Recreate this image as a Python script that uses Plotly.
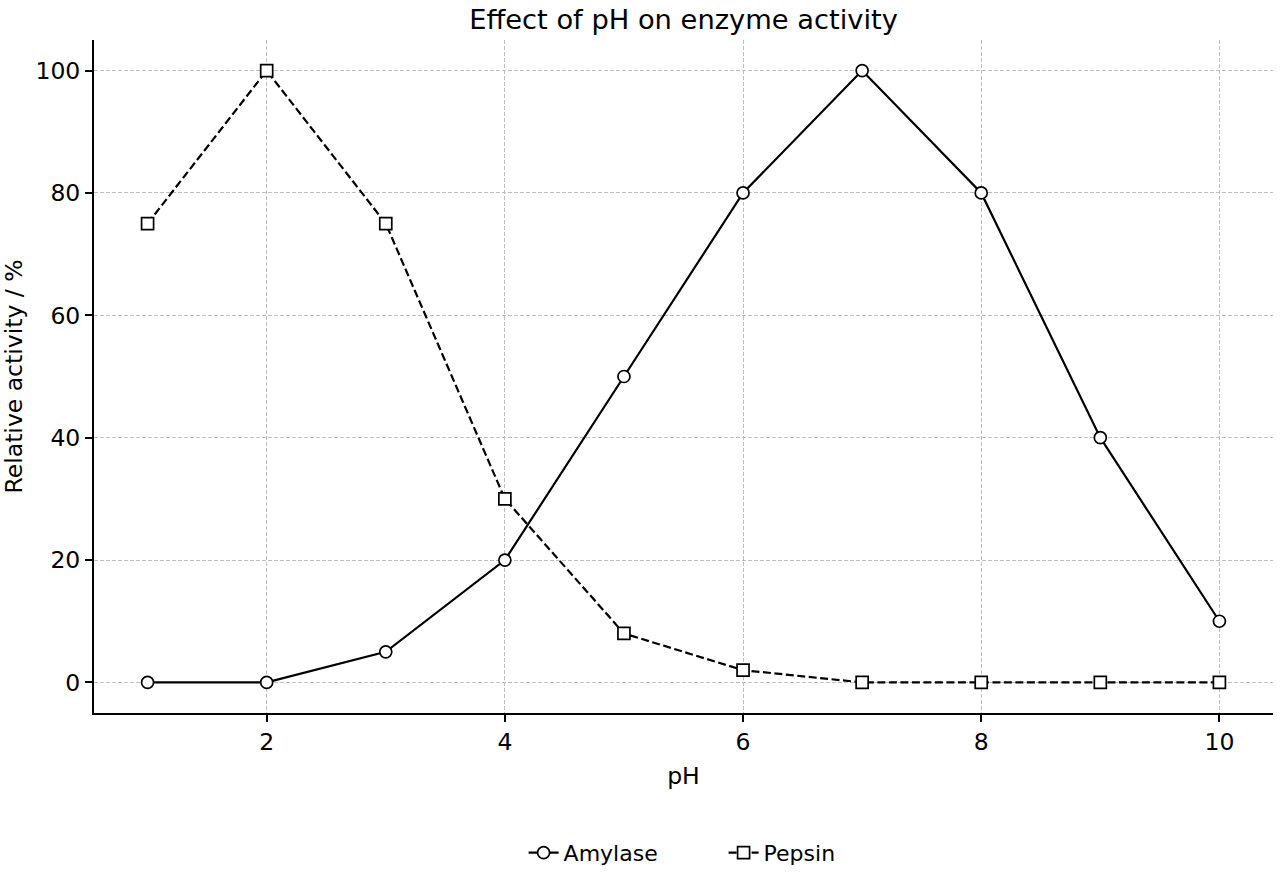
import plotly.graph_objects as go

ph = [1, 2, 3, 4, 5, 6, 7, 8, 9, 10]
amylase = [0, 0, 5, 20, 50, 80, 100, 80, 40, 10]
pepsin = [75, 100, 75, 30, 8, 2, 0, 0, 0, 0]
x_ticks = [2, 4, 6, 8, 10]
y_ticks = [0, 20, 40, 60, 80, 100]

fig = go.Figure()
fig.add_trace(go.Scatter(
    x=ph, y=amylase, name="Amylase", mode="lines+markers",
    line=dict(color="black", width=2.2, dash="solid"),
    marker=dict(symbol="circle", size=12, color="white", line=dict(color="black", width=1.7)),
))
fig.add_trace(go.Scatter(
    x=ph, y=pepsin, name="Pepsin", mode="lines+markers",
    line=dict(color="black", width=2.2, dash="8px,3.5px"),
    marker=dict(symbol="square", size=12, color="white", line=dict(color="black", width=1.7)),
))

axis_style = dict(
    showline=True, linecolor="black", linewidth=2,
    ticks="outside", ticklen=7, tickwidth=2, tickcolor="black",
    showgrid=True, gridcolor="#bfbfbf", gridwidth=1, griddash="4px,2px",
    zeroline=False, mirror=False, automargin=False,
    tickfont=dict(family="DejaVu Sans", size=23.5, color="black"),
)

fig.update_layout(
    width=1280, height=880,
    paper_bgcolor="white", plot_bgcolor="white",
    margin=dict(l=94, r=7, t=40, b=166),
    font=dict(family="DejaVu Sans", color="black", size=22),
    title=dict(text="Effect of pH on enzyme activity", xref="paper", x=0.5, xanchor="center",
               yref="container", y=0.978, yanchor="middle",
               font=dict(size=27.3, family="DejaVu Sans", color="black")),
    legend=dict(orientation="h", x=0.534, xanchor="center", y=-0.206, yanchor="middle",
                font=dict(size=22, family="DejaVu Sans"), entrywidth=155, entrywidthmode="pixels"),
    showlegend=True,
    xaxis=dict(range=[0.55, 10.45], tickmode="array", tickvals=x_ticks,
               title=dict(text="pH", font=dict(size=23.5, family="DejaVu Sans"), standoff=12), **axis_style),
    yaxis=dict(range=[-5, 105], tickmode="array", tickvals=y_ticks,
               title=dict(text="Relative activity / %", font=dict(size=23.5, family="DejaVu Sans"), standoff=10),
               **axis_style),
)

fig.write_html("out.html")
